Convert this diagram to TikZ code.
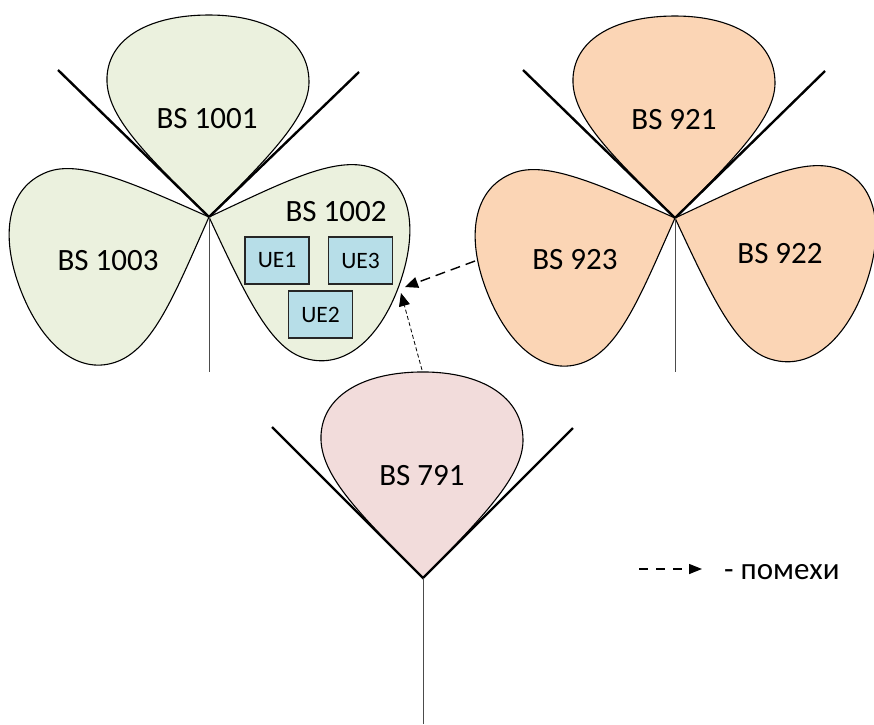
\documentclass[tikz,border=0pt]{standalone}
\usepackage{fontspec}
\setmainfont{Carlito}
\usetikzlibrary{arrows.meta}
\definecolor{leafgreen}{HTML}{EBF1DE}
\definecolor{leaforange}{HTML}{FBD5B5}
\definecolor{leafpink}{HTML}{F2DCDB}
\definecolor{uefill}{HTML}{B7DEE8}
\tikzset{
  teardrop/.pic={
    \path[pic actions] (0,0) .. controls (-60,-60) and (-104,-100) .. (-102,-140)
      .. controls (-100,-180) and (-58,-202) .. (0,-202)
      .. controls (58,-202) and (100,-178) .. (100,-135)
      .. controls (100,-100) and (60,-60) .. (0,0) -- cycle;
  },
  lobe/.style={draw=black, line width=1.1pt},
  mast/.style={draw=black!70, line width=0.9pt},
  vee/.style={draw=black, line width=2.4pt},
  bslabel/.style={font=\fontsize{31}{31}\selectfont, inner sep=0pt},
  uebox/.style={draw=black!85, line width=1.2pt, fill=uefill, minimum width=64pt,
    minimum height=47pt, inner sep=0pt, font=\fontsize{23.5}{23.5}\selectfont},
  strongnoise/.style={line width=1.4pt, dash pattern=on 10pt off 6pt,
    -{Triangle[length=13pt,width=11pt]}},
  weaknoise/.style={line width=0.8pt, dash pattern=on 4pt off 2.5pt,
    -{Triangle[length=13pt,width=11pt]}},
}
\begin{document}
\begin{tikzpicture}[x=1pt,y=-1pt]
\useasboundingbox (0,0) rectangle (874,724);
\clip (0,0) rectangle (874,724);

% station with three sectors (green)
\coordinate (apexA) at (209,217);
\pic[lobe, fill=leafgreen] at (apexA) {teardrop};
\pic[lobe, fill=leafgreen, rotate=-110] at (apexA) {teardrop};
\pic[lobe, fill=leafgreen, rotate=111] at (apexA) {teardrop};
\coordinate (vAl) at (58,70);
\coordinate (vAr) at (359,72);
\coordinate (footA) at (209,372);
\draw[vee] (vAl) -- (apexA) -- (vAr);
\draw[mast] (apexA) -- (footA);

% station with three sectors (orange)
\coordinate (apexB) at (675,218);
\pic[lobe, fill=leaforange] at (apexB) {teardrop};
\pic[lobe, fill=leaforange, rotate=-110] at (apexB) {teardrop};
\pic[lobe, fill=leaforange, rotate=111] at (apexB) {teardrop};
\coordinate (vBl) at (523,70);
\coordinate (vBr) at (825,71);
\coordinate (footB) at (675,372);
\draw[vee] (vBl) -- (apexB) -- (vBr);
\draw[mast] (apexB) -- (footB);

% single-sector station (pink)
\coordinate (apexC) at (423,578);
\pic[lobe, fill=leafpink, yscale=1.02] at (apexC) {teardrop};
\coordinate (vCl) at (272,427);
\coordinate (vCr) at (573,428);
\coordinate (footC) at (423,724);
\draw[vee] (vCl) -- (apexC) -- (vCr);
\draw[mast] (apexC) -- (footC);

% sector labels
\node[bslabel] (bs1001) at (207,119) {BS 1001};
\node[bslabel] (bs1003) at (108,261) {BS 1003};
\node[bslabel] (bs1002) at (336,212) {BS 1002};
\node[bslabel] (bs921) at (674,120) {BS 921};
\node[bslabel] (bs923) at (575,260) {BS 923};
\node[bslabel] (bs922) at (780,254) {BS 922};
\node[bslabel] (bs791) at (422,476) {BS 791};

% user terminals
\node[uebox] (ue1) at (277,260.5) {UE1};
\node[uebox] (ue3) at (360.5,260.5) {UE3};
\node[uebox] (ue2) at (320.5,314.5) {UE2};

% interference paths
\coordinate (src923) at (475,261);
\coordinate (hitA) at (405,287);
\coordinate (src791) at (422,370);
\coordinate (hitB) at (401,293);
\draw[strongnoise] (src923) -- (hitA);
\draw[weaknoise] (src791) -- (hitB);

% legend
\coordinate (legS) at (639,569);
\coordinate (legE) at (702,569);
\draw[line width=1.3pt, dash pattern=on 9pt off 8pt, -{Triangle[length=13pt,width=10pt]}] (legS) -- (legE);
\node[bslabel, anchor=west] (legtext) at (724,572) {- помехи};
\end{tikzpicture}
\end{document}
